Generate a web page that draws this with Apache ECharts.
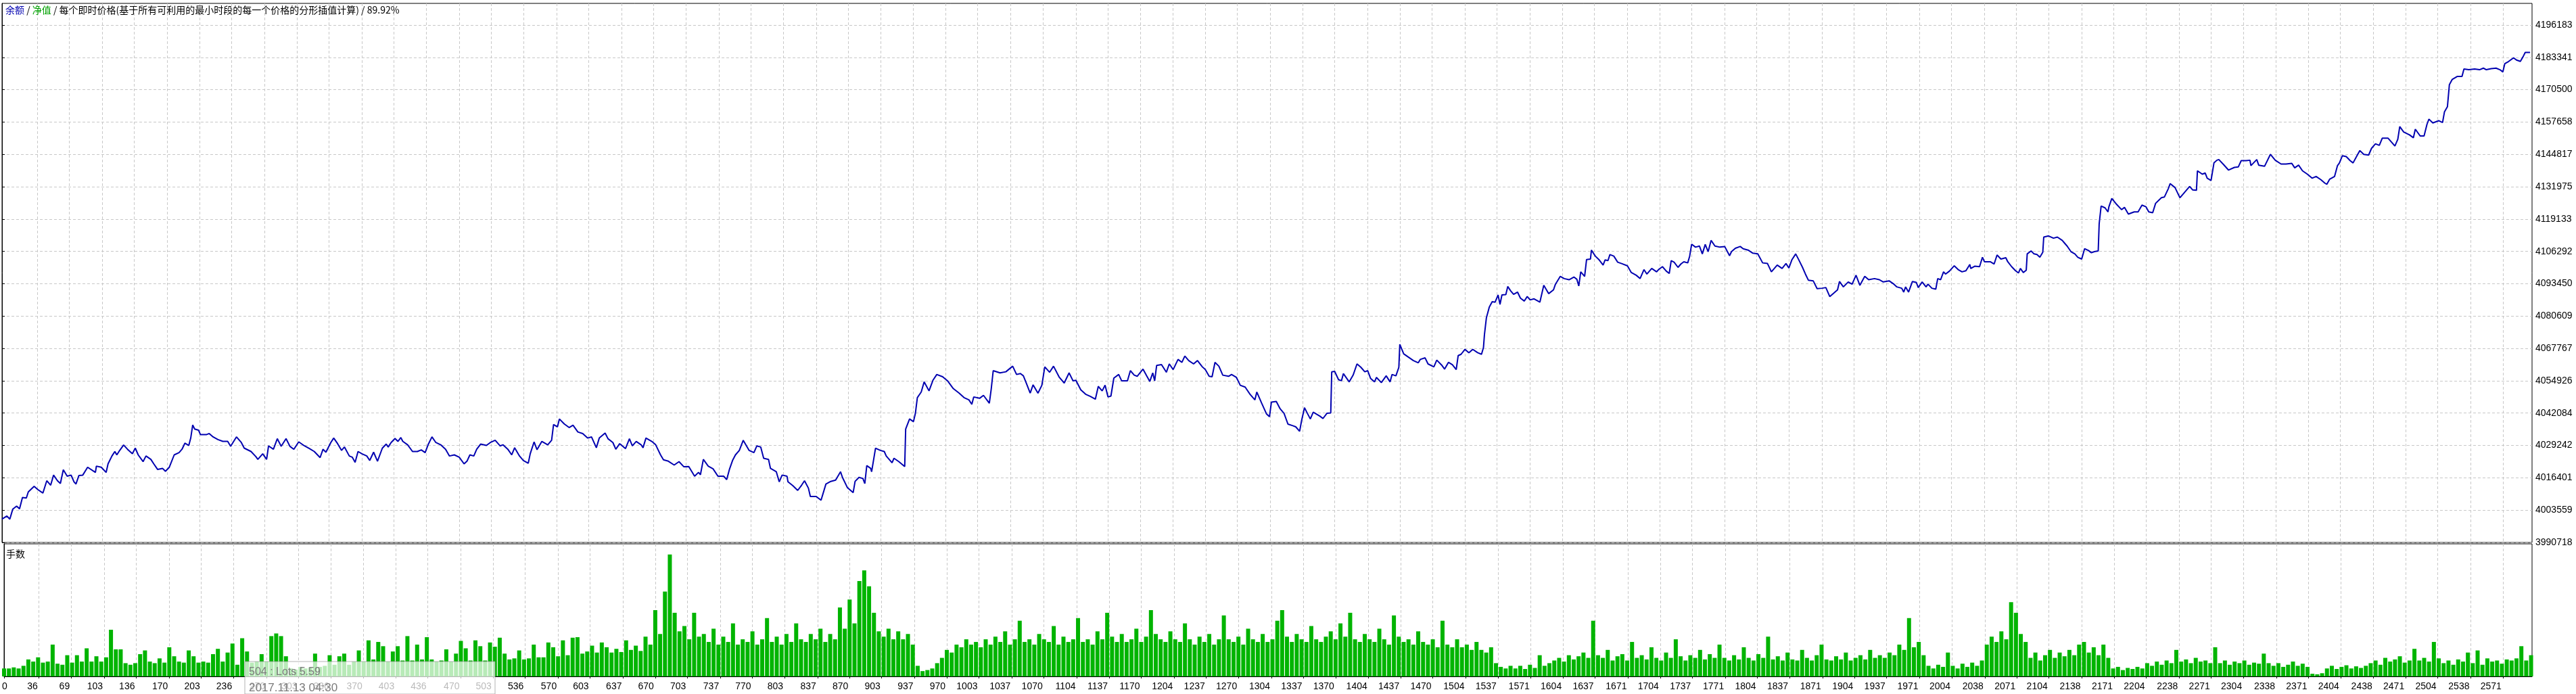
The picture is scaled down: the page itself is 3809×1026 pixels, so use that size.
<!DOCTYPE html>
<html><head><meta charset="utf-8">
<script src="https://cdn.jsdelivr.net/npm/echarts@6/dist/echarts.min.js"></script>
<style>html,body{margin:0;padding:0;background:#fff}#c{width:3809px;height:1026px}</style>
</head><body><div id="c"></div>
<script>
const xTicks = [0,36,69,103,136,170,203,236,270,303,336,370,403,436,470,503,536,570,603,637,670,703,737,770,803,837,870,903,937,970,1003,1037,1070,1104,1137,1170,1204,1237,1270,1304,1337,1370,1404,1437,1470,1504,1537,1571,1604,1637,1671,1704,1737,1771,1804,1837,1871,1904,1937,1971,2004,2038,2071,2104,2138,2171,2204,2238,2271,2304,2338,2371,2404,2438,2471,2504,2538,2571];
const yTicks = [3990718,4003559,4016401,4029242,4042084,4054926,4067767,4080609,4093450,4106292,4119133,4131975,4144817,4157658,4170500,4183341,4196183];

const balIdx = [0,5,8,11,15,18,21,25,27,33,37,42,46,50,53,57,60,63,67,71,74,76,79,83,88,96,97,102,107,109,113,116,118,121,125,129,134,137,140,145,148,153,156,160,165,168,172,177,182,185,188,192,194,196,198,202,204,210,213,217,222,227,232,235,241,246,249,256,261,263,268,272,274,279,283,287,292,296,300,305,311,316,321,327,330,333,338,341,345,349,352,357,360,363,366,370,375,378,382,386,391,395,397,400,404,407,410,412,417,422,427,431,435,438,442,446,451,456,460,465,470,475,478,481,485,488,492,498,502,507,512,515,520,524,527,532,536,541,543,547,550,555,561,565,567,571,573,578,583,587,592,597,602,606,611,614,620,623,628,631,635,641,645,648,652,657,659,662,668,672,677,680,685,691,696,701,706,712,716,718,721,726,731,736,742,745,748,751,754,758,762,768,773,776,780,783,788,790,796,799,802,807,808,813,818,822,825,829,831,837,842,847,852,857,862,864,869,875,877,881,885,887,889,893,894,898,903,907,909,915,917,922,928,929,933,937,939,941,945,948,953,957,961,967,972,978,984,989,994,997,999,1005,1009,1015,1017,1019,1026,1032,1039,1043,1047,1050,1053,1057,1060,1065,1069,1072,1077,1081,1087,1092,1097,1101,1104,1109,1114,1119,1124,1127,1131,1134,1137,1140,1143,1148,1151,1157,1160,1164,1167,1173,1177,1180,1183,1185,1187,1192,1197,1200,1204,1209,1213,1216,1220,1225,1229,1234,1237,1241,1244,1247,1251,1255,1261,1264,1269,1273,1278,1283,1288,1290,1295,1300,1303,1305,1310,1314,1318,1322,1327,1330,1334,1336,1339,1342,1345,1348,1355,1358,1362,1366,1367,1370,1374,1377,1379,1385,1389,1393,1397,1401,1404,1407,1411,1413,1418,1423,1427,1429,1433,1436,1437,1441,1446,1451,1456,1458,1463,1466,1472,1475,1480,1483,1487,1491,1495,1497,1500,1504,1508,1512,1517,1521,1523,1524,1526,1529,1532,1535,1538,1540,1542,1546,1548,1551,1554,1558,1561,1565,1568,1571,1575,1581,1585,1590,1595,1597,1602,1606,1611,1616,1619,1621,1623,1627,1629,1633,1634,1638,1642,1646,1648,1651,1653,1657,1661,1665,1671,1675,1680,1684,1688,1691,1696,1701,1703,1707,1711,1714,1716,1719,1723,1726,1729,1733,1735,1737,1741,1745,1748,1751,1754,1757,1761,1766,1771,1776,1778,1782,1787,1790,1795,1800,1805,1810,1815,1819,1825,1830,1834,1837,1840,1844,1847,1851,1854,1857,1862,1866,1871,1875,1879,1883,1887,1889,1893,1898,1902,1906,1910,1915,1919,1925,1930,1934,1940,1945,1948,1953,1955,1957,1960,1964,1968,1970,1974,1978,1980,1984,1988,1990,1993,1996,1998,2002,2007,2011,2015,2019,2023,2024,2028,2033,2036,2038,2044,2048,2051,2055,2060,2062,2066,2070,2073,2075,2078,2081,2082,2086,2089,2092,2095,2098,2099,2104,2109,2113,2118,2120,2123,2127,2131,2134,2138,2141,2145,2148,2151,2155,2156,2158,2162,2165,2166,2169,2174,2179,2182,2186,2192,2196,2200,2204,2207,2211,2214,2220,2223,2227,2229,2234,2239,2242,2246,2249,2252,2256,2257,2262,2265,2267,2271,2274,2277,2279,2284,2289,2295,2299,2302,2307,2311,2312,2318,2320,2326,2332,2337,2343,2348,2354,2357,2361,2365,2370,2375,2379,2384,2388,2390,2393,2398,2401,2403,2406,2410,2414,2417,2421,2424,2428,2433,2436,2440,2444,2447,2453,2457,2460,2463,2465,2469,2475,2479,2481,2486,2490,2493,2495,2499,2505,2509,2511,2514,2516,2519,2524,2529,2531,2536,2542,2547,2551,2554,2559,2564,2568,2571,2573,2577,2582,2585,2589,2592,2594,2599];
const balVal = [4000000,4001240,3999990,4003920,4005160,4004090,4008550,4008370,4010780,4013010,4011670,4010340,4015240,4013460,4017470,4015240,4014170,4019610,4017030,4017470,4014800,4013900,4017300,4017470,4020600,4018540,4021040,4020600,4018540,4021930,4025060,4026840,4025500,4027290,4029430,4027730,4025950,4028180,4025500,4022830,4025060,4023720,4021930,4019700,4020150,4018990,4020600,4025500,4026390,4027730,4030140,4029250,4032190,4037370,4035760,4035310,4033530,4033530,4033980,4032640,4031570,4030860,4030860,4028900,4032640,4030410,4028180,4026840,4024790,4023720,4025950,4023720,4029070,4027730,4031930,4028900,4031930,4028900,4027730,4030680,4029070,4028000,4026840,4024430,4027730,4026570,4030410,4032190,4029960,4027290,4028630,4025060,4024610,4022560,4026840,4025950,4025060,4023270,4026570,4023000,4028180,4029780,4028630,4030410,4032010,4030860,4032370,4030860,4029510,4026840,4026840,4027470,4026390,4029510,4032640,4030410,4029510,4027730,4025060,4025500,4024610,4021930,4023000,4025500,4025060,4027730,4029780,4029250,4030410,4031300,4029070,4029510,4027730,4025500,4028350,4025050,4023270,4022200,4025940,4030670,4027550,4030850,4029510,4031290,4037530,4036640,4039760,4037800,4036370,4037260,4034590,4033970,4032190,4032630,4028350,4032190,4034150,4031920,4030400,4027730,4029960,4027990,4031920,4029070,4030850,4029510,4028350,4032190,4030850,4029510,4025500,4023530,4023000,4021480,4022820,4020770,4020860,4017020,4018540,4017650,4023710,4021040,4019970,4017020,4017020,4015690,4019970,4023270,4025500,4027280,4031290,4027280,4026390,4029070,4028620,4024160,4023710,4020150,4018810,4014800,4017470,4017020,4014800,4013280,4011400,4013460,4015240,4012300,4009000,4009000,4007490,4013910,4014980,4015510,4018810,4016580,4012560,4010510,4014980,4016580,4016130,4014080,4021220,4020150,4018810,4028170,4027280,4026840,4025050,4022380,4024160,4022820,4020860,4035750,4039760,4038690,4041990,4048230,4050470,4054480,4050910,4055100,4057420,4056530,4054930,4051810,4050020,4048240,4047350,4045570,4048500,4047970,4049130,4046010,4051810,4058940,4058050,4058500,4060720,4057420,4057780,4056890,4054030,4050020,4053320,4050020,4053140,4060450,4058310,4060720,4056260,4054030,4058050,4054930,4055100,4051360,4049580,4048680,4047610,4052700,4050910,4053140,4048500,4048860,4055990,4057420,4054930,4054930,4058940,4057160,4056710,4059560,4056710,4054660,4058050,4054930,4060990,4061350,4058310,4061620,4059390,4063400,4062240,4064740,4062950,4061620,4062950,4060450,4059390,4056710,4056530,4062240,4060720,4057160,4056710,4057420,4056260,4053140,4052430,4049580,4047350,4050470,4046010,4041730,4040660,4046460,4046730,4043780,4042000,4037710,4037090,4036640,4034860,4039050,4044220,4041990,4039760,4042440,4040830,4039940,4041990,4042170,4058490,4058670,4055370,4054930,4057780,4054480,4057160,4061620,4060280,4058490,4058940,4055820,4054480,4056260,4054210,4056890,4054480,4057420,4056890,4060280,4069370,4065630,4064290,4062950,4062060,4063400,4064020,4061620,4060450,4063130,4061170,4059560,4062240,4061350,4059390,4064920,4065450,4067410,4066070,4067410,4066070,4065450,4068120,4073210,4079900,4084180,4086320,4086140,4089000,4085250,4089000,4089170,4092380,4090600,4089260,4090150,4087740,4086580,4088370,4087030,4087470,4086140,4092830,4089530,4091040,4093270,4096390,4095500,4095060,4096130,4095230,4092560,4098180,4096390,4103080,4103260,4106830,4104420,4102900,4100850,4102900,4102630,4105040,4104420,4102010,4101480,4100580,4097910,4096840,4095500,4099070,4097290,4099510,4098180,4099070,4100230,4098440,4097550,4102630,4102010,4099960,4101300,4102190,4101740,4104420,4109150,4107990,4108430,4105310,4109060,4106200,4110660,4108430,4107990,4108250,4104600,4106200,4107540,4108250,4107360,4106830,4105580,4105310,4101740,4101480,4098180,4100850,4099510,4101480,4099690,4102900,4105310,4103080,4099960,4097290,4094880,4094610,4091490,4091670,4091940,4088370,4089700,4091040,4094340,4092200,4094160,4093270,4096840,4092830,4096390,4095060,4095500,4095060,4094160,4094610,4093270,4092200,4091670,4090150,4092200,4090150,4094340,4093990,4091940,4094160,4092200,4093270,4091670,4091310,4095500,4095060,4098180,4097290,4098440,4100580,4099070,4098180,4098620,4101120,4099510,4100400,4100230,4103970,4102190,4102190,4101300,4104870,4103260,4103790,4102190,4100230,4098620,4097730,4099510,4097910,4098800,4105310,4106470,4105310,4105040,4103970,4105940,4111990,4112440,4111550,4111990,4110660,4109770,4108430,4106200,4105310,4103970,4103260,4107360,4106650,4105760,4106200,4106470,4117350,4124310,4123600,4121990,4124040,4127340,4124930,4122880,4123770,4121100,4121990,4121990,4124660,4124040,4121990,4121630,4125380,4127610,4127870,4131170,4133220,4131620,4127610,4128950,4130730,4132070,4130730,4130550,4138310,4136960,4137420,4135360,4134470,4141430,4142500,4142770,4140720,4138580,4139650,4139820,4142320,4142320,4142500,4140360,4142770,4140540,4140090,4144820,4142500,4140980,4140980,4141250,4139470,4140540,4138310,4136960,4135360,4136070,4134740,4133400,4132960,4134980,4136070,4140360,4141430,4144290,4143930,4142320,4141430,4144290,4146330,4144820,4144550,4147230,4149010,4148390,4151240,4151240,4149460,4148120,4150800,4155880,4153730,4152580,4151420,4154810,4152130,4152130,4156770,4158820,4157300,4158190,4157480,4161760,4163720,4172460,4174600,4175760,4175760,4178710,4178440,4178710,4178440,4179060,4178440,4178880,4179060,4178440,4177550,4180850,4181740,4183170,4182270,4181740,4183790,4185300,4185300];

// lots, one value per 5 trade indices (0, 5, 10, ... 2600)
const lotStep = 5;
const lotVal = [
1.5,1.5,1.7,1.5,2.0,3.2,2.8,3.6,2.6,2.8,
6.0,2.4,2.2,4.0,2.6,4.0,2.8,5.3,2.8,3.8,
2.8,3.6,8.8,5.1,5.1,2.5,2.2,2.5,4.2,4.9,
2.8,2.5,3.4,2.6,5.5,3.8,2.8,2.6,4.9,3.8,
2.6,2.8,2.6,4.2,5.2,2.8,4.5,6.2,2.2,7.2,
4.7,2.6,2.8,4.2,2.8,7.6,8.1,7.6,3.8,1.5,
1.3,1.8,1.5,1.7,4.3,1.8,2.0,4.0,2.2,3.8,
4.3,2.2,2.8,4.9,2.8,6.8,3.2,6.5,5.7,2.8,
4.7,5.7,3.0,7.6,3.0,6.0,3.2,7.4,3.2,2.8,
3.0,5.1,2.8,4.3,6.7,5.3,3.0,6.8,5.7,3.0,
6.4,5.6,7.3,4.3,3.2,3.4,4.9,3.2,3.4,6.0,
3.6,3.6,6.4,5.5,3.8,6.8,4.0,7.3,7.4,4.3,
4.7,5.8,4.5,6.4,5.5,4.5,5.2,4.6,6.8,5.0,
5.8,4.8,7.5,6.0,12.5,8.0,16.0,23.0,12.0,8.5,
9.5,7.0,12.0,7.5,8.0,6.5,9.0,6.0,7.5,6.5,
10.0,6.0,7.0,6.5,8.5,6.0,7.0,11.0,6.5,7.5,
6.0,8.0,6.5,10.0,7.0,6.5,8.0,7.0,9.0,6.5,
8.0,7.0,13.0,9.0,14.5,10.0,18.0,20.0,17.0,12.0,
8.5,7.5,9.0,7.0,8.5,7.0,8.0,6.0,2.0,1.0,
1.2,1.5,2.5,3.5,5.0,4.5,6.0,5.5,7.0,6.0,
6.5,5.5,7.0,6.0,7.5,6.5,8.5,6.0,7.0,10.5,
6.5,7.0,6.0,8.0,7.0,6.5,9.5,6.0,7.5,6.5,
7.0,11.0,6.5,7.0,6.0,8.5,7.0,12.0,7.5,6.5,
8.0,6.5,7.0,9.0,6.5,7.5,12.5,8.0,7.0,6.5,
8.5,7.0,6.5,10.0,7.0,6.0,7.5,6.5,8.0,6.0,
7.0,11.5,7.0,6.5,7.5,6.0,9.0,7.0,6.5,8.0,
6.5,7.0,10.5,12.5,7.5,6.5,8.0,7.0,6.5,9.5,
7.0,6.5,7.5,8.5,7.0,10.0,7.5,12.0,7.0,6.5,
8.0,7.0,6.5,9.0,7.0,6.0,11.5,7.5,6.5,7.0,
6.0,8.5,6.5,6.0,7.0,5.5,10.5,6.0,5.5,7.0,
5.5,6.0,5.0,6.5,5.0,4.5,5.5,2.5,1.8,1.5,
2.0,1.5,2.0,1.4,2.2,1.6,4.0,2.0,2.5,3.0,
3.5,2.8,4.0,3.2,3.8,4.5,3.5,10.5,4.0,3.5,
5.0,3.0,3.8,4.2,3.0,6.5,3.5,4.0,3.2,5.5,
3.5,3.0,4.5,3.5,7.0,3.8,3.0,4.0,3.5,5.0,
3.2,4.2,3.5,6.0,3.5,3.0,4.0,3.2,5.5,3.5,
3.0,4.2,3.5,7.5,3.2,3.8,3.0,4.5,3.2,3.0,
5.0,3.5,3.0,4.0,6.0,3.2,3.0,3.8,3.2,4.5,
3.0,3.5,4.0,3.2,5.0,3.5,4.0,3.5,4.5,4.0,
6.0,5.0,11.0,5.5,6.5,4.0,2.0,1.5,2.2,1.8,
4.5,2.0,1.5,2.4,1.8,2.6,2.0,3.0,6.0,7.5,
6.5,8.5,7.0,14.0,12.0,8.0,6.5,3.5,4.5,3.0,
4.0,5.0,3.5,4.5,3.8,5.0,4.0,6.0,6.5,4.5,
5.5,4.0,6.0,3.5,1.5,1.8,1.2,1.6,1.4,1.8,
1.5,2.5,2.0,2.8,2.2,3.0,2.5,5.0,2.8,3.2,
2.5,3.5,2.8,3.0,2.5,5.5,2.5,3.0,2.2,2.8,
2.5,3.0,2.2,2.6,2.4,4.3,2.5,2.0,2.5,1.8,
2.2,2.8,2.0,2.4,1.8,0.5,0.4,0.6,1.5,2.0,
1.4,1.8,2.1,1.5,1.9,1.6,2.0,2.5,3.0,2.2,
3.5,2.8,3.2,3.8,2.6,3.0,5.2,3.0,3.5,2.8,
6.5,3.4,2.5,3.0,2.2,3.2,2.8,4.5,2.5,4.9,
2.2,3.4,2.8,3.0,2.4,3.2,3.0,3.4,5.7,3.0,
4.0];

const headParts = ['余额', '净值', '每个即时价格(基于所有可利用的最小时段的每一个价格的分形插值计算)', '89.92%'];
const subTitle = '手数';
const tipLines = ['504 : Lots 5.59', '2017.11.13 04:30'];

const chart = echarts.init(document.getElementById('c'));
const grid = {color:'#c8c8c8', type:[4,3], width:1};
const FONT = 'Liberation Sans';
const option = {
  animation: false,
  backgroundColor: '#ffffff',
  textStyle: {fontFamily: FONT},
  title: [
    {text: '{b|' + headParts[0] + '} / {g|' + headParts[1] + '} / ' + headParts[2] + ' / ' + headParts[3],
     left: 8, top: 8, padding: 0,
     textStyle: {fontSize: 14, fontWeight: 'normal', color: '#000', fontFamily: 'Noto Sans CJK SC',
       rich: {b: {color: '#0000b0', fontSize: 14, fontFamily: 'Noto Sans CJK SC'},
              g: {color: '#00a000', fontSize: 14, fontFamily: 'Noto Sans CJK SC'}}}},
    {text: subTitle, left: 9, top: 812, padding: 0,
     textStyle: {fontSize: 14, fontWeight: 'normal', color: '#000', fontFamily: 'Noto Sans CJK SC'}}
  ],
  grid: [
    {left: 3, right: 65, top: 5, height: 797, show: true, borderColor: '#000', borderWidth: 1, backgroundColor: 'transparent'},
    {left: 3, right: 65, top: 804, height: 196, show: true, borderColor: '#000', borderWidth: 1, backgroundColor: 'transparent'}
  ],
  xAxis: [
    {gridIndex: 0, type: 'value', min: 0, max: 2601,
     axisLine: {show: false}, axisTick: {show: false, customValues: xTicks},
     axisLabel: {show: false, customValues: xTicks}, splitLine: {show: true, lineStyle: grid}},
    {gridIndex: 1, type: 'value', min: 0, max: 2601,
     axisLine: {show: true, lineStyle: {color: '#000', width: 1}},
     axisTick: {show: true, length: 3, customValues: xTicks, lineStyle: {color: '#000'}},
     axisLabel: {show: true, customValues: xTicks, fontSize: 14, color: '#000', fontFamily: FONT,
       align: 'right', margin: 8, padding: [0, 2, 0, 0],
       formatter: v => v === 0 ? '{z|0}' : String(v),
       rich: {z: {width: 1, align: 'left', fontSize: 14, fontFamily: FONT, color: '#000'}}},
     splitLine: {show: true, lineStyle: grid}}
  ],
  yAxis: [
    {gridIndex: 0, type: 'value', position: 'right', min: 3990718, max: 4204775,
     axisLine: {show: true, lineStyle: {color: '#000', width: 1}},
     axisTick: {show: true, length: 4, customValues: yTicks, lineStyle: {color: '#000'}},
     axisLabel: {customValues: yTicks, fontSize: 14, color: '#000', fontFamily: FONT, margin: 5,
       formatter: v => String(v)},
     splitLine: {show: true, lineStyle: grid}},
    {gridIndex: 1, type: 'value', position: 'right', min: 0, max: 25,
     axisLine: {show: true, lineStyle: {color: '#000', width: 1}}, axisTick: {show: false},
     axisLabel: {show: false}, splitLine: {show: false}}
  ],
  series: [
    {type: 'bar', xAxisIndex: 1, yAxisIndex: 1, barWidth: 6,
     data: lotVal.map((v, i) => [i * lotStep, v]),
     itemStyle: {color: '#00b400'}, silent: true},
    {type: 'line', xAxisIndex: 0, yAxisIndex: 0, showSymbol: false, symbol: 'none',
     data: balIdx.map((x, i) => [x, balVal[i]]),
     lineStyle: {color: '#0000b0', width: 2}, silent: true, z: 3}
  ],
  graphic: [
    {type: 'rect', x: 362, y: 978, z: 100, shape: {x: 0, y: 0, width: 370, height: 48},
     style: {fill: 'rgba(255,255,255,0.72)', stroke: 'rgba(150,150,150,0.7)', lineWidth: 1}},
    {type: 'text', x: 368, y: 994, z: 101,
     style: {text: tipLines[0], font: '16px "Liberation Sans"', fill: '#7a7a7a', verticalAlign: 'middle'}},
    {type: 'text', x: 368, y: 1017, z: 101,
     style: {text: tipLines[1], font: '17px "Liberation Sans"', fill: '#7a7a7a', verticalAlign: 'middle'}}
  ]
};
chart.setOption(option);
</script></body></html>
